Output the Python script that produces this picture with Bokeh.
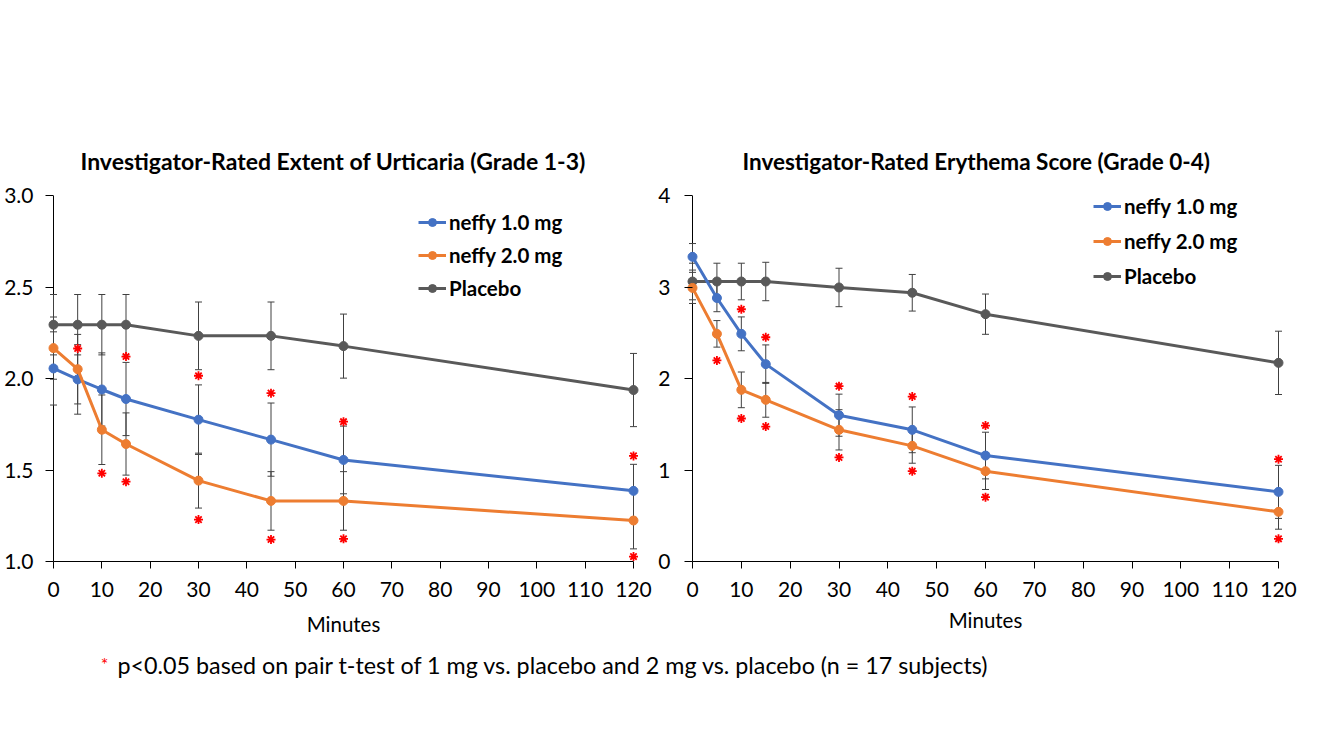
from bokeh.plotting import figure
from bokeh.models import (Range1d, FixedTicker, NumeralTickFormatter, Legend, LegendItem,
                          Whisker, ColumnDataSource, TeeHead, Label, Span)
from bokeh.layouts import column, row
from bokeh.embed import file_html
from bokeh.resources import INLINE

# ---------------- data ----------------
minutes = [0, 5, 10, 15, 30, 45, 60, 120]
series_names = ["neffy 1.0 mg", "neffy 2.0 mg", "Placebo"]

# Investigator-Rated Extent of Urticaria (Grade 1-3)
urt_1mg = [2.055, 1.995, 1.94, 1.888, 1.775, 1.666, 1.555, 1.386]
urt_2mg = [2.166, 2.051, 1.72, 1.642, 1.442, 1.331, 1.331, 1.224]
urt_pbo = [2.294, 2.294, 2.294, 2.294, 2.233, 2.233, 2.177, 1.937]
urt_1mg_se = [0.20, 0.19, 0.20, 0.20, 0.19, 0.20, 0.185, 0.145]
urt_2mg_se = [0.17, 0.19, 0.19, 0.17, 0.15, 0.16, 0.16, 0.155]
urt_pbo_se = [0.165, 0.165, 0.165, 0.165, 0.185, 0.185, 0.175, 0.20]
urt_star_hi_x = [5, 15, 30, 45, 60, 120]
urt_star_hi_y = [2.164, 2.12, 2.015, 1.92, 1.764, 1.577]
urt_star_lo_x = [10, 15, 30, 45, 60, 120]
urt_star_lo_y = [1.482, 1.436, 1.229, 1.12, 1.124, 1.027]
urt_yticks = [1.0, 1.5, 2.0, 2.5, 3.0]

# Investigator-Rated Erythema Score (Grade 0-4)
ery_1mg = [3.33, 2.88, 2.488, 2.157, 1.599, 1.439, 1.158, 0.761]
ery_2mg = [2.99, 2.488, 1.876, 1.767, 1.439, 1.264, 0.987, 0.543]
ery_pbo = [3.06, 3.06, 3.06, 3.06, 2.995, 2.937, 2.703, 2.171]
ery_1mg_se = [0.145, 0.15, 0.185, 0.21, 0.23, 0.25, 0.255, 0.29]
ery_2mg_se = [0.17, 0.145, 0.195, 0.19, 0.22, 0.19, 0.20, 0.19]
ery_pbo_se = [0.20, 0.20, 0.20, 0.21, 0.21, 0.20, 0.22, 0.346]
ery_star_hi_x = [10, 15, 30, 45, 60, 120]
ery_star_hi_y = [2.757, 2.451, 1.916, 1.803, 1.486, 1.118]
ery_star_lo_x = [5, 10, 15, 30, 45, 60, 120]
ery_star_lo_y = [2.197, 1.563, 1.475, 1.137, 0.987, 0.703, 0.248]
ery_yticks = [0, 1, 2, 3, 4]

xticks = [0, 10, 20, 30, 40, 50, 60, 70, 80, 90, 100, 110, 120]
x_min, x_max = 0, 120

titles = ["Investigator-Rated Extent of Urticaria (Grade 1-3)",
          "Investigator-Rated Erythema Score (Grade 0-4)"]
footnote = "p<0.05 based on pair t-test of 1 mg vs. placebo and 2 mg vs. placebo (n = 17 subjects)"

# ---------------- style ----------------
FONT = "Lato"
COLORS = ["#4472C4", "#ED7D31", "#595959"]
ERR_COLOR = "#404040"
STAR_COLOR = "#FF0000"
PAD_PX = 8  # frame extends this many px beyond x=0 and x=120 so edge markers are not clipped


def make_chart(title, means, ses, star_hi, star_lo, yrange, yticks, yfmt,
               width, height, mb_left, mb_right, mb_top, mb_bottom,
               legend_loc, legend_spacing, label_standoff, title_size, title_offset,
               ylabel_standoff):
    frame_w = width - mb_left - mb_right
    px_per_min = (frame_w - 2 * PAD_PX) / (x_max - x_min)
    pad = PAD_PX / px_per_min
    p = figure(width=width, height=height, x_range=Range1d(x_min - pad, x_max + pad),
               y_range=Range1d(*yrange), toolbar_location=None,
               output_backend="svg", min_border_left=mb_left,
               min_border_right=mb_right, min_border_top=mb_top,
               min_border_bottom=mb_bottom)
    p.outline_line_color = None
    p.grid.visible = False
    p.background_fill_color = "white"
    p.border_fill_color = "white"

    p.title.text = title
    p.title.text_font = FONT
    p.title.text_font_size = title_size
    p.title.text_font_style = "bold"
    p.title.text_color = "#000000"
    p.title.align = "left"
    p.title.offset = title_offset
    p.title.standoff = 41

    for ax in (p.xaxis[0], p.yaxis[0]):
        ax.axis_line_color = "#000000"
        ax.axis_line_width = 1
        ax.major_tick_line_color = "#000000"
        ax.minor_tick_line_color = None
        ax.major_label_text_font = FONT
        ax.major_label_text_font_size = "21px"
        ax.major_label_text_color = "#000000"
    p.xaxis.ticker = FixedTicker(ticks=xticks)
    p.xaxis.bounds = (x_min, x_max)
    p.xaxis.major_tick_out = 7
    p.xaxis.major_tick_in = 0
    p.xaxis.major_label_standoff = 13
    p.xaxis.axis_label = "Minutes"
    p.xaxis.axis_label_text_font = FONT
    p.xaxis.axis_label_text_font_size = "20.5px"
    p.xaxis.axis_label_text_font_style = "normal"
    p.xaxis.axis_label_text_color = "#000000"
    p.xaxis.axis_label_standoff = label_standoff

    # y axis: labels from the real axis, ticks reach from the frame edge to x=0,
    # and the axis line itself is drawn at x=0
    p.yaxis.ticker = FixedTicker(ticks=yticks)
    p.yaxis.formatter = NumeralTickFormatter(format=yfmt)
    p.yaxis.axis_line_color = None
    p.yaxis.major_tick_out = 0
    p.yaxis.major_tick_in = PAD_PX
    p.yaxis.major_label_standoff = ylabel_standoff
    p.add_layout(Span(location=x_min, dimension="height", line_color="#000000",
                      line_width=1, level="underlay"))

    # error bars
    for m, s in zip(means, ses):
        src = ColumnDataSource(dict(x=minutes,
                                    lo=[a - b for a, b in zip(m, s)],
                                    hi=[a + b for a, b in zip(m, s)]))
        w = Whisker(base="x", lower="lo", upper="hi", source=src,
                    line_color=ERR_COLOR, line_width=1, level="underlay",
                    upper_head=TeeHead(size=7, line_color=ERR_COLOR, line_width=1),
                    lower_head=TeeHead(size=7, line_color=ERR_COLOR, line_width=1))
        p.add_layout(w)

    # drawing order: placebo, then 1.0 mg, then 2.0 mg on top
    rends = {}
    for i in [2, 0, 1]:
        ln = p.line(minutes, means[i], line_color=COLORS[i], line_width=3)
        sc = p.scatter(minutes, means[i], marker="circle", size=9,
                       fill_color=COLORS[i], line_color=COLORS[i])
        rends[i] = [ln, sc]
    items = [LegendItem(label=series_names[i], renderers=rends[i]) for i in range(3)]

    # significance stars
    for sx, sy in (star_hi, star_lo):
        p.scatter(sx, sy, marker="asterisk", size=9,
                  line_color=STAR_COLOR, line_width=1.8)

    leg = Legend(items=items, location=legend_loc, orientation="vertical",
                 background_fill_alpha=0, border_line_color=None,
                 label_text_font=FONT, label_text_font_size="20.5px",
                 label_text_font_style="bold", label_text_color="#000000",
                 glyph_width=28, glyph_height=20, label_height=20,
                 label_standoff=3, spacing=legend_spacing, padding=0, margin=0)
    p.add_layout(leg, "center")
    return p


# left chart: x=0 at page x 53, x=120 at 633; frame 45..641
p1 = make_chart(titles[0], [urt_1mg, urt_2mg, urt_pbo],
                [urt_1mg_se, urt_2mg_se, urt_pbo_se],
                (urt_star_hi_x, urt_star_hi_y), (urt_star_lo_x, urt_star_lo_y),
                (1.0, 3.0), urt_yticks, "0.0",
                width=655, height=645, mb_left=45, mb_right=14, mb_top=194,
                mb_bottom=84, legend_loc=(373, 261), legend_spacing=9,
                label_standoff=12, title_size="23px", title_offset=35,
                ylabel_standoff=12)

# right chart: x=0 at page x 692, x=120 at 1278; frame 684..1286
p2 = make_chart(titles[1], [ery_1mg, ery_2mg, ery_pbo],
                [ery_1mg_se, ery_2mg_se, ery_pbo_se],
                (ery_star_hi_x, ery_star_hi_y), (ery_star_lo_x, ery_star_lo_y),
                (0, 4), ery_yticks, "0",
                width=667, height=645, mb_left=29, mb_right=36, mb_top=195,
                mb_bottom=84, legend_loc=(409, 273), legend_spacing=11,
                label_standoff=8, title_size="22.5px", title_offset=58,
                ylabel_standoff=14)

p3 = figure(width=1322, height=70, x_range=Range1d(0, 1322), y_range=Range1d(0, 70),
            toolbar_location=None, output_backend="svg", min_border=0)
p3.axis.visible = False
p3.grid.visible = False
p3.outline_line_color = None
p3.add_layout(Label(x=104, y=52, x_units="screen", y_units="screen", text="*",
                    text_font=FONT, text_font_size="18px", text_color=STAR_COLOR,
                    text_align="center", text_baseline="middle"))
p3.add_layout(Label(x=117, y=51, x_units="screen", y_units="screen", text=footnote,
                    text_font=FONT, text_font_size="23.3px", text_color="#000000",
                    text_align="left", text_baseline="middle"))

layout = column(row(p1, p2), p3)
open("out.html", "w").write(file_html(layout, INLINE))
